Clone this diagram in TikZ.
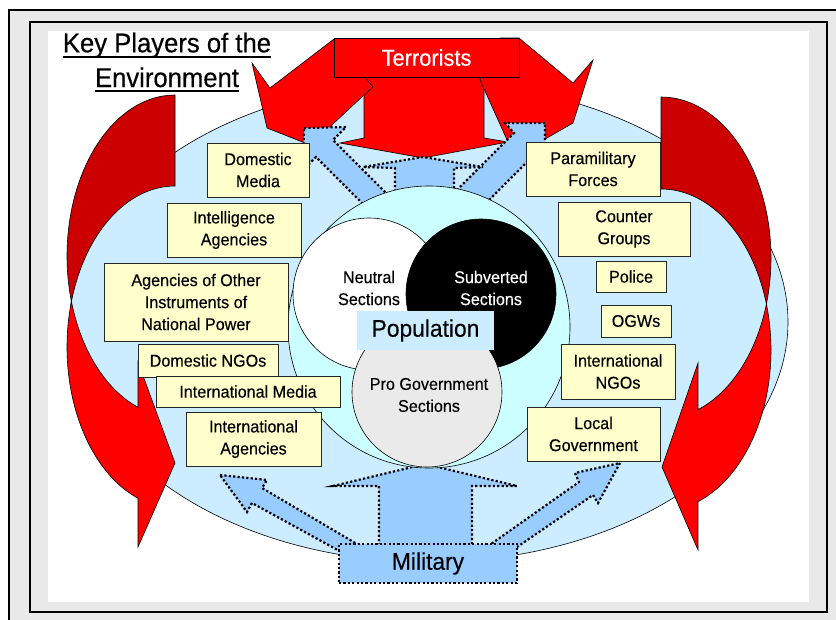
\documentclass[tikz,border=0pt]{standalone}
\usepackage{fontspec}
\setmainfont{Liberation Sans}[FakeStretch=0.95, FakeBold=0.35]
\definecolor{ellblue}{RGB}{204,236,255}
\definecolor{cyanc}{RGB}{204,255,255}
\definecolor{arrblue}{RGB}{153,204,255}
\definecolor{boxyellow}{RGB}{255,255,204}
\definecolor{darkred}{RGB}{204,0,0}
\definecolor{brightred}{RGB}{255,0,0}
\definecolor{framegray}{RGB}{233,233,233}
\definecolor{progray}{RGB}{234,234,234}
\tikzset{
  ybox/.style={draw=black!85, line width=1pt, fill=boxyellow, inner sep=0pt, align=center,
    font=\fontsize{17}{22}\selectfont},
  dotarrow/.style={fill=arrblue, draw=black, line width=2.2pt, dash pattern=on 2.2pt off 2.2pt},
  redshape/.style={fill=brightred, draw=black, line width=0.6pt},
  thinline/.style={draw=black, line width=0.6pt},
  ctext/.style={align=center, inner sep=0pt, font=\fontsize{17}{22}\selectfont},
}
\begin{document}
\begin{tikzpicture}[x=1pt,y=-1pt]
\useasboundingbox (0,0) rectangle (836,619);
\fill[white] (0,0) rectangle (836,619);
% frames
\draw[fill=framegray, line width=1.5pt] (9,10) rectangle (860,640);
\draw[fill=framegray, line width=1.5pt] (30,22) rectangle (827,612);
\fill[white] (48,31) rectangle (809,602);
% big ellipse
\draw[thinline, fill=ellblue] (429,322) ellipse[x radius=359, y radius=240];
% left curved arrow
\draw[thinline, fill=darkred]
  plot[domain=270:163.58, samples=50] ({175+108*cos(\x)},{256+161*sin(\x)})
  -- plot[domain=196.42:270, samples=50] ({175+108*cos(\x)},{347+161*sin(\x)}) -- cycle;
\draw[thinline, fill=brightred]
  plot[domain=196.42:110.03, samples=60] ({175+108*cos(\x)},{347+161*sin(\x)})
  -- (138,547) -- (175,463) -- (138,362)
  -- plot[domain=110.03:163.58, samples=40] ({175+108*cos(\x)},{256+161*sin(\x)}) -- cycle;
% right curved arrow
\draw[thinline, fill=darkred]
  plot[domain=-90:16.6, samples=50] ({661+110*cos(\x)},{258+161*sin(\x)})
  -- plot[domain=-16.6:-90, samples=50] ({661+110*cos(\x)},{350+161*sin(\x)}) -- cycle;
\draw[thinline, fill=brightred]
  plot[domain=-16.6:70.37, samples=60] ({661+110*cos(\x)},{350+161*sin(\x)})
  -- (698,550) -- (662,467) -- (698,363)
  -- plot[domain=70.37:16.6, samples=40] ({661+110*cos(\x)},{258+161*sin(\x)}) -- cycle;
% terrorists three-way arrow
\draw[redshape] (364,60) -- (364,138) -- (340,143) -- (423,158) -- (508,142) -- (484,138) -- (484,60) -- cycle;
\draw[redshape] (334,39) -- (270,88) -- (252,63) -- (267,128) -- (305,143) -- (318,138) -- (364,95) -- (373,87) -- (365,77) -- (370,39) -- cycle;
\draw[redshape] (519,38) -- (573,83) -- (593,60) -- (573,123) -- (540,142) -- (508,142) -- (480,80) -- (483,70) -- (500,38) -- cycle;
% blue dotted arrows (top)
\draw[dotarrow] (304,128) -- (346,127) -- (333,140) -- (423,230) -- (406,247) -- (316,157) -- (303,170) -- cycle;
\draw[dotarrow] (545,123) -- (505,123) -- (514,133) -- (424,223) -- (445,244) -- (535,154) -- (545,163) -- cycle;
\draw[dotarrow] (395,240) -- (395,168) -- (363,167) -- (423,157) -- (483,167) -- (454,168) -- (454,240) -- cycle;
% blue dotted arrows (bottom)
\draw[dotarrow] (379,550) -- (379,486) -- (333,486) -- (425,464) -- (517,486) -- (472,486) -- (472,550) -- cycle;
\draw[dotarrow] (220,475) -- (267,480) -- (262,488) -- (362,547) -- (354,559) -- (252,503) -- (247,512) -- cycle;
\draw[dotarrow] (620,463) -- (598,503) -- (593,495) -- (504,556) -- (484,549) -- (579,482) -- (575,473) -- cycle;
% population circles
\draw[thinline, fill=cyanc] (429,327) circle[radius=141];
\draw[thinline, fill=white] (369,294) circle[radius=76];
\draw[thinline, fill=black] (481,294) circle[radius=75];
\draw[thinline, fill=progray] (427,392) circle[radius=75];
\node[ctext] (neutral) at (369,288) {Neutral\\Sections};
\node[ctext, text=white] (subverted) at (491,288) {Subverted\\Sections};
\node[ctext] (progov) at (429,395) {Pro Government\\Sections};
\node[fill=ellblue, minimum width=137pt, minimum height=39pt, inner sep=0pt,
  font=\fontsize{24}{28}\selectfont] (population) at (425.5,330.5) {Population};
% boxes left
\node[ybox, minimum width=102pt, minimum height=54pt] (dmedia) at (258,170) {Domestic\\Media};
\node[ybox, minimum width=134pt, minimum height=54pt] (intel) at (234,230) {Intelligence\\Agencies};
\node[ybox, minimum width=184pt, minimum height=78pt] (other) at (196,302) {Agencies of Other\\Instruments of\\National Power};
\node[ybox, minimum width=140pt, minimum height=33pt] (dngo) at (208,360.5) {Domestic NGOs};
\node[ybox, minimum width=184pt, minimum height=31pt] (imedia) at (248,391.5) {International Media};
\node[ybox, minimum width=135pt, minimum height=54pt] (iagency) at (253.5,439) {International\\Agencies};
% boxes right
\node[ybox, minimum width=134pt, minimum height=54pt] (para) at (593,169) {Paramilitary\\Forces};
\node[ybox, minimum width=132pt, minimum height=54pt] (counter) at (624,229) {Counter\\Groups};
\node[ybox, minimum width=70pt, minimum height=31pt] (police) at (631,276.5) {Police};
\node[ybox, minimum width=70pt, minimum height=32pt] (ogw) at (636,321) {OGWs};
\node[ybox, minimum width=114pt, minimum height=55pt] (ingo) at (618,371.5) {International\\NGOs};
\node[ybox, minimum width=133pt, minimum height=54pt] (localgov) at (593.5,434) {Local\\Government};
% actor boxes
\node[fill=brightred, draw=black, line width=0.8pt, text=white, minimum width=185pt, minimum height=39pt,
  inner sep=0pt, font=\fontsize{23}{27}\selectfont] (terror) at (426.5,57.5) {Terrorists};
\node[fill=arrblue, draw=black, line width=2.2pt, dash pattern=on 2.2pt off 2.2pt, minimum width=178pt,
  minimum height=39pt, inner sep=0pt, font=\fontsize{24}{28}\selectfont] (military) at (428,563.5) {Military};
% title
\node[anchor=base, inner sep=0pt, font=\fontsize{27}{35}\selectfont] (title1) at (167,52.3) {Key Players of the};
\node[anchor=base, inner sep=0pt, font=\fontsize{27}{35}\selectfont] (title2) at (167,87) {Environment};
\draw[line width=2pt] ([yshift=-5pt]title1.base west) -- ([yshift=-5pt]title1.base east);
\draw[line width=2pt] ([yshift=-4pt]title2.base west) -- ([yshift=-4pt]title2.base east);
\end{tikzpicture}
\end{document}
